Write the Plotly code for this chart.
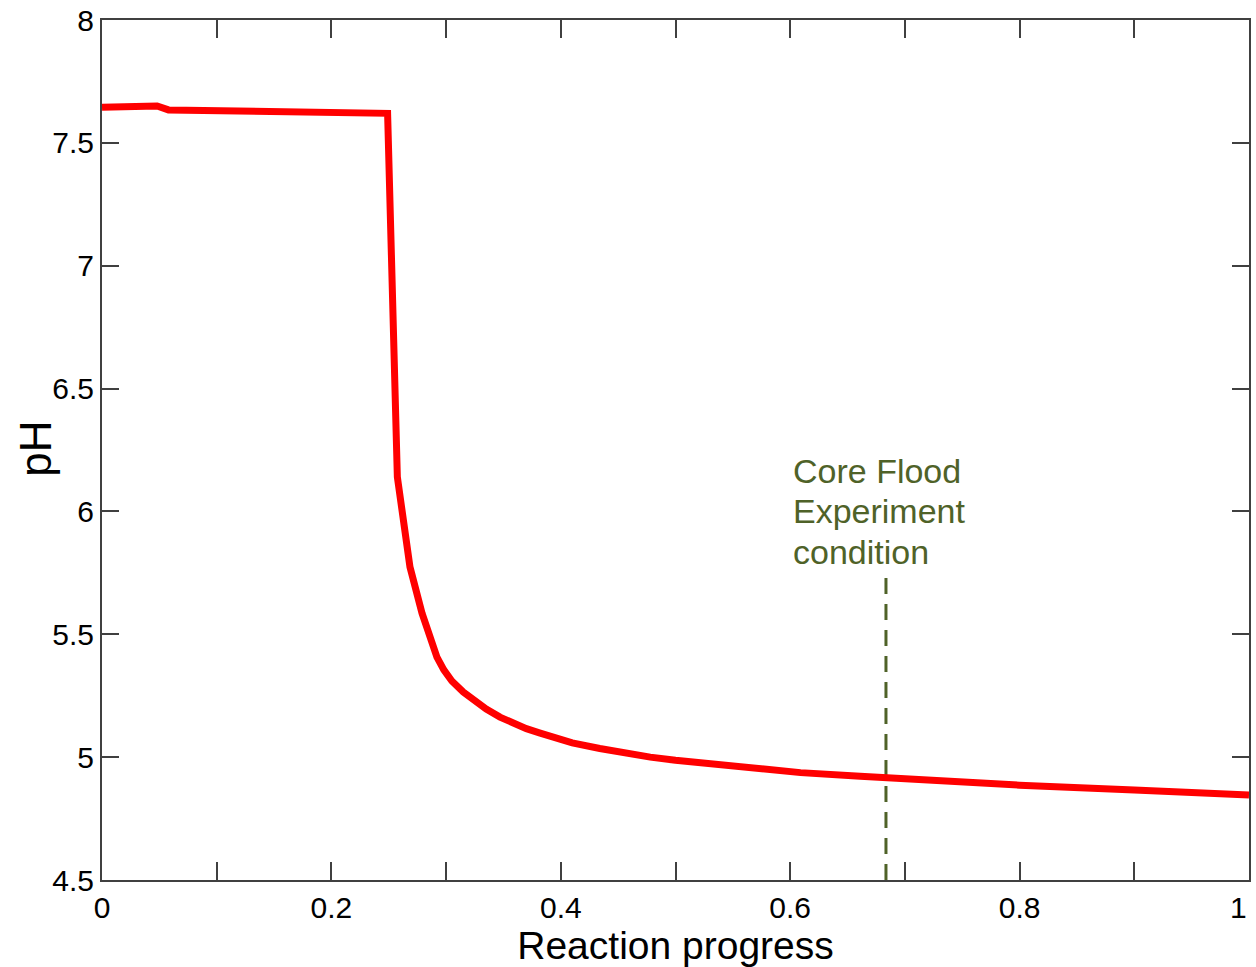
import plotly.graph_objects as go

# Reaction progress vs pH
progress = [0.0, 0.048, 0.058, 0.10, 0.15, 0.20, 0.249, 0.2575, 0.2685, 0.279, 0.286,
            0.292, 0.298, 0.305, 0.315, 0.325, 0.335, 0.347, 0.358, 0.37, 0.382,
            0.395, 0.41, 0.434, 0.455, 0.478, 0.50, 0.521, 0.565, 0.609, 0.661,
            0.678, 0.70, 0.80, 0.90, 1.0]
ph = [7.645, 7.65, 7.634, 7.632, 7.628, 7.624, 7.62, 6.14, 5.774, 5.586, 5.485,
      5.407, 5.355, 5.31, 5.265, 5.228, 5.196, 5.163, 5.139, 5.116, 5.098,
      5.078, 5.058, 5.035, 5.017, 5.0, 4.987, 4.976, 4.956, 4.937, 4.922,
      4.917, 4.91, 4.886, 4.866, 4.846]

# Core flood experiment marker
marker_x = [0.6835, 0.6835]
marker_y = [4.5, 5.75]
note_lines = ["Core Flood", "Experiment", "condition"]
note_x = 0.601
note_y = [6.165, 6.0, 5.835]

x_ticks = [0, 0.2, 0.4, 0.6, 0.8, 1]
x_ticklabels = ["0", "0.2", "0.4", "0.6", "0.8", "1"]
y_ticks = [4.5, 5, 5.5, 6, 6.5, 7, 7.5, 8]
y_ticklabels = ["4.5", "5", "5.5", "6", "6.5", "7", "7.5", "8"]

olive = "#4F6228"
axis_col = "#404040"
FONT = "Liberation Sans, Arial"

fig = go.Figure()
fig.add_trace(go.Scatter(x=marker_x, y=marker_y, mode="lines",
                         line=dict(color=olive, width=3, dash="16px,10px"),
                         showlegend=False, hoverinfo="skip"))
fig.add_trace(go.Scatter(x=progress, y=ph, mode="lines",
                         line=dict(color="#FF0000", width=7),
                         showlegend=False, cliponaxis=False))

for txt, yy in zip(note_lines, note_y):
    fig.add_annotation(x=note_x, y=yy, text=txt, showarrow=False,
                       xanchor="left", yanchor="middle",
                       font=dict(family=FONT, size=34, color=olive))

# y-axis title placed as annotation (slightly above center, as in reference)
fig.add_annotation(x=-0.058, y=0.502, xref="paper", yref="paper", text="pH",
                   textangle=-90, showarrow=False, xanchor="center", yanchor="middle",
                   font=dict(family=FONT, size=44, color="black"))

# last x tick label kept inside the page (right-aligned at the axis end)
fig.add_annotation(x=x_ticks[-1], y=-0.0314, xref="x", yref="paper", text=x_ticklabels[-1],
                   showarrow=False, xanchor="right", yanchor="middle",
                   font=dict(family=FONT, size=30, color="black"))

fig.update_layout(
    width=1256, height=967,
    margin=dict(l=102, r=7, t=20, b=87),
    paper_bgcolor="white", plot_bgcolor="white",
    font=dict(family=FONT, color="black"),
    xaxis=dict(range=[0, 1], tickmode="array", tickvals=x_ticks,
               ticktext=x_ticklabels[:-1] + [""],
               ticks="inside", ticklen=18, tickwidth=1.5, tickcolor=axis_col,
               minor=dict(dtick=0.1, ticks="inside", ticklen=18, tickwidth=1.5, tickcolor=axis_col),
               showline=True, linecolor=axis_col, linewidth=2, mirror="ticks",
               showgrid=False, zeroline=False, automargin=False,
               ticklabeloverflow="allow",
               tickfont=dict(size=30, color="black"),
               title=dict(text="Reaction progress", font=dict(size=39, color="black"), standoff=6)),
    yaxis=dict(range=[4.5, 8], tickmode="array", tickvals=y_ticks, ticktext=y_ticklabels,
               ticks="inside", ticklen=17, tickwidth=1.5, tickcolor=axis_col,
               showline=True, linecolor=axis_col, linewidth=2, mirror="ticks",
               showgrid=False, zeroline=False, automargin=False,
               ticklabeloverflow="allow",
               tickfont=dict(size=30, color="black")),
)

fig.write_html("out.html")
